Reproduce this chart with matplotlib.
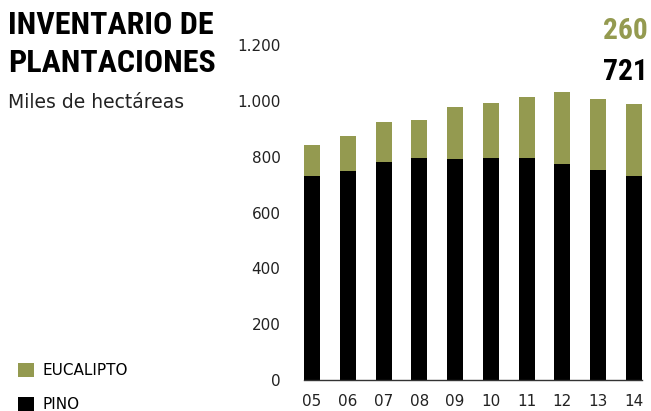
"""
Stacked bar chart: inventario de plantaciones (pino + eucalipto).
"""

import matplotlib.pyplot as plt
from matplotlib import font_manager
from matplotlib.ticker import FuncFormatter

# Data (miles de hectareas)
years = ["05", "06", "07", "08", "09", "10", "11", "12", "13", "14"]
pino = [730, 750, 782, 796, 793, 796, 796, 775, 754, 732]
eucalipto = [113, 125, 143, 136, 186, 197, 218, 257, 253, 257]
yticks = [0, 200, 400, 600, 800, 1000, 1200]

green = "#949a50"
black = "#000000"

# pick a condensed face for the headline if one is installed
installed = {f.name for f in font_manager.fontManager.ttflist}
narrow = "DejaVu Sans"
for name in ["Roboto Condensed", "Open Sans Condensed", "Liberation Sans Narrow",
             "DejaVu Sans Condensed"]:
    if name in installed:
        narrow = name
        break
narrow_kw = dict(family=[narrow, "DejaVu Sans"], fontweight="bold", fontstretch="condensed")
light = ["DejaVu Sans"]

W, H = 651, 411
fig = plt.figure(figsize=(W / 100, H / 100), dpi=100)
ax = fig.add_axes([304 / W, 31 / H, 338 / W, 335 / H])

x = range(len(years))
b_pino = ax.bar(x, pino, width=0.45, color=black, label="PINO")
b_euc = ax.bar(x, eucalipto, bottom=pino, width=0.45, color=green, label="EUCALIPTO")

ax.set_xlim(-0.225, len(years) - 1 + 0.225)
ax.set_ylim(0, 1200)
ax.set_xticks(list(x))
ax.set_xticklabels(years)
ax.set_yticks(yticks)
ax.yaxis.set_major_formatter(FuncFormatter(lambda v, p: f"{int(v):,}".replace(",", ".")))

for s in ["top", "right", "left"]:
    ax.spines[s].set_visible(False)
ax.spines["bottom"].set_color("#333333")
ax.spines["bottom"].set_linewidth(1.0)
ax.tick_params(axis="both", length=0, labelsize=11, colors="#222222")
ax.tick_params(axis="y", pad=17)
ax.tick_params(axis="x", pad=10)

# Title block (two lines, baselines placed separately)
t1 = fig.text(8 / W, 1 - 34 / H, "INVENTARIO DE", ha="left", va="baseline",
              fontsize=24, **narrow_kw)
t2 = fig.text(8 / W, 1 - 72 / H, "PLANTACIONES", ha="left", va="baseline",
              fontsize=24, **narrow_kw)
fig.text(8 / W, 1 - 108 / H, "Miles de hectáreas", ha="left", va="baseline",
         fontsize=13.5, family=light, color="#222222")

# Latest values
n260 = fig.text(648 / W, 1 - 39 / H, "260", ha="right", va="baseline",
                fontsize=24, color=green, **narrow_kw)
n721 = fig.text(648 / W, 1 - 80 / H, "721", ha="right", va="baseline",
                fontsize=24, color=black, **narrow_kw)

# scale the headline texts to a width close to the original
fig.canvas.draw()
w = max(t1.get_window_extent().width, t2.get_window_extent().width)
for t in (t1, t2):
    t.set_fontsize(t.get_fontsize() * 208 / w)
for t in (n260, n721):
    t.set_fontsize(t.get_fontsize() * 45 / t.get_window_extent().width)

fig.legend([b_euc, b_pino], ["EUCALIPTO", "PINO"], loc="lower left",
           bbox_to_anchor=(4 / W, -15 / H), frameon=False,
           handlelength=1.05, handleheight=1.05, handletextpad=0.55,
           labelspacing=1.25, prop={"family": light, "size": 11})

fig.savefig("out.png", dpi=100)
